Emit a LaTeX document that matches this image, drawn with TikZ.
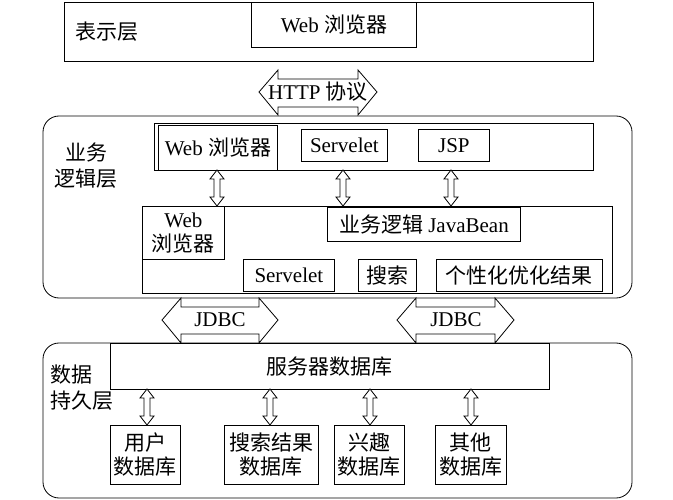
\documentclass[tikz,border=0pt]{standalone}
\usepackage{fontspec}
\setmainfont{Liberation Serif}
\newfontfamily\cjk{Noto Sans CJK SC}
\newcommand{\zh}[1]{{\cjk #1}}
\usetikzlibrary{positioning}

\tikzset{
  box/.style={draw=black, line width=0.8pt, fill=white, inner sep=1pt, anchor=north west, align=center, font=\fontsize{21}{24}\selectfont},
  layer/.style={draw=black, line width=0.8pt, rounded corners=16pt},
  lbl/.style={align=center, font=\fontsize{21}{26}\selectfont},
  blockarrow/.style={draw=black, line width=0.8pt, fill=white}
}

% vertical double arrow: x, top y, bottom y
\newcommand{\vdarrow}[3]{%
  \path[blockarrow] (#1-3,#2+9) -- (#1-7,#2+9) -- (#1,#2) -- (#1+7,#2+9) -- (#1+3,#2+9)
    -- (#1+3,#3-9) -- (#1+7,#3-9) -- (#1,#3) -- (#1-7,#3-9) -- (#1-3,#3-9) -- cycle;}
% horizontal double arrow: left tip, left notch, right notch, right tip, top, body top, middle, body bottom, bottom
\newcommand{\hdarrow}[9]{%
  \path[blockarrow] (#2,#5) -- (#2,#6) -- (#3,#6) -- (#3,#5) -- (#4,#7) -- (#3,#9) -- (#3,#8)
    -- (#2,#8) -- (#2,#9) -- (#1,#7) -- cycle;}

\begin{document}
\begin{tikzpicture}[x=1pt, y=-1pt]
\useasboundingbox (0,0) rectangle (673,500);

% presentation layer
\node[box, minimum width=529pt, minimum height=59pt] (pres) at (64,2) {};
\node[box, minimum width=165pt, minimum height=45pt] (web0) at (251,2) {Web \zh{浏览器}};
\node[lbl] (presl) at (107,32) {\zh{表示层}};

\hdarrow{259}{278}{358}{377}{70}{79}{92}{107}{115}
\node[lbl] (http) at (318,92) {HTTP \zh{协议}};

% business layer
\draw[layer] (43,116) rectangle (632,298);
\node[lbl] (bizl) at (86,166) {\zh{业务}\\\zh{逻辑层}};
\node[box, minimum width=439pt, minimum height=47pt] (top) at (154,123) {};
\node[box, minimum width=119pt, minimum height=45pt] (web1) at (158,125) {Web \zh{浏览器}};
\node[box, minimum width=86pt, minimum height=32pt] (srv1) at (301,129) {Servelet};
\node[box, minimum width=71pt, minimum height=32pt] (jsp) at (418,129) {JSP};
\node[box, minimum width=470pt, minimum height=87pt] (low) at (142,206) {};
\node[box, minimum width=82pt, minimum height=53pt] (web2) at (142,206) {Web\\\zh{浏览器}};
\node[box, minimum width=193pt, minimum height=34pt] (bean) at (327,207) {\zh{业务逻辑} JavaBean};
\node[box, minimum width=91pt, minimum height=32pt] (srv2) at (243,259) {Servelet};
\node[box, minimum width=58pt, minimum height=32pt] (search) at (358,259) {\zh{搜索}};
\node[box, minimum width=166pt, minimum height=32pt] (opt) at (436,259) {\zh{个性化优化结果}};
\foreach \x in {217,343,451} {\vdarrow{\x}{170}{206}}

\hdarrow{162}{181}{259}{278}{298}{307}{320}{334}{343}
\node[lbl] (jdbc1) at (220,320) {JDBC};
\hdarrow{397}{416}{495}{514}{298}{307}{320}{334}{343}
\node[lbl] (jdbc2) at (456,320) {JDBC};

% data layer
\draw[layer] (43,343) rectangle (632,498);
\node[lbl, align=left] (datal) at (82,388) {\zh{数据}\\\zh{持久层}};
\node[box, minimum width=439pt, minimum height=46pt] (srvdb) at (110,343) {\zh{服务器数据库}};
\node[box, minimum width=70pt, minimum height=59pt] (udb) at (110,425) {\zh{用户}\\\zh{数据库}};
\node[box, minimum width=94pt, minimum height=59pt] (sdb) at (224,425) {\zh{搜索结果}\\\zh{数据库}};
\node[box, minimum width=70pt, minimum height=59pt] (idb) at (334,425) {\zh{兴趣}\\\zh{数据库}};
\node[box, minimum width=71pt, minimum height=59pt] (odb) at (435,425) {\zh{其他}\\\zh{数据库}};
\foreach \x in {147,270,370,471} {\vdarrow{\x}{389}{425}}
\end{tikzpicture}
\end{document}
